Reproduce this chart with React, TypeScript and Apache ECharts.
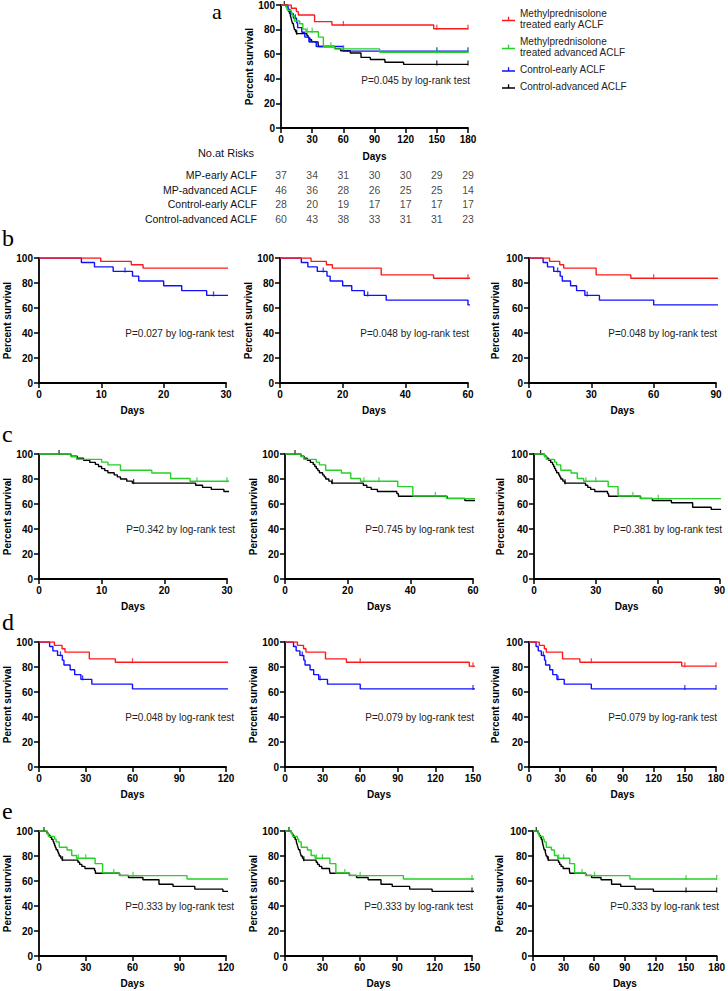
import React, { useEffect, useRef } from 'react';
import * as echarts from 'echarts';

// ---------- data ----------
const seriesNames = [
  'Methylprednisolone treated early ACLF',
  'Methylprednisolone treated advanced ACLF',
  'Control-early ACLF',
  'Control-advanced ACLF',
];

// Kaplan-Meier step points [day, percent survival]
const mpEarlyCurve = [[0, 100], [9.9, 97.3], [14.8, 94.6], [16.7, 91.9], [32.3, 86.5], [49, 83.8], [147, 80.7], [180, 80.7]];
const mpEarlyCensored = [[60, 83.8], [150, 80.7], [180, 80.7]];

const mpAdvancedCurve = [[0, 100], [5.1, 97.8], [6, 95.7], [10, 93.5], [11, 91.3], [13, 87.0], [18, 84.8], [21, 80.4], [24.1, 78.2], [36, 73.9], [40.8, 66.4], [51.5, 64.3], [95, 61.6], [180, 61.6]];
const mpAdvancedCensored = [[25.2, 78.2], [30, 78.2], [48, 66.4], [60.3, 64.3], [150, 61.6], [180, 61.6]];

const controlEarlyCurve = [[0, 100], [6.8, 96.4], [8.9, 92.9], [11.9, 89.3], [15, 85.5], [16, 81.6], [20, 77.8], [22.9, 73.9], [26.9, 70.1], [33.9, 66.3], [60, 62.5], [180, 62.5]];
const controlEarlyCensored = [[13.8, 89.3], [28, 70.1], [150, 62.5], [180, 62.5]];

const controlAdvancedCurve = [[0, 100], [5.1, 98.3], [6.1, 96.7], [7.1, 95], [8.1, 93.3], [9, 91.7], [9.5, 90], [10, 88.3], [10.5, 86.7], [11, 85], [12, 83.3], [12.5, 81.7], [13, 80], [14, 78.3], [14.9, 76.7], [25, 75], [26.1, 73.3], [27.5, 71.7], [29.5, 70], [35.7, 68.3], [36.2, 66.2], [51.7, 64.5], [57.4, 62.8], [66.7, 61], [77, 57.4], [86, 55.7], [100, 53.5], [118, 51.7], [180, 51.7]];
const controlAdvancedCensored = [[3.2, 100], [15.1, 76.7], [150, 51.7], [180, 51.7]];

// Number at risk table
const riskDays = [0, 30, 60, 90, 120, 150, 180];
const riskRowLabels = ['MP-early ACLF', 'MP-advanced ACLF', 'Control-early ACLF', 'Control-advanced ACLF'];
const riskMpEarly = [37, 34, 31, 30, 30, 29, 29];
const riskMpAdvanced = [46, 36, 28, 26, 25, 25, 14];
const riskControlEarly = [28, 20, 19, 17, 17, 17, 17];
const riskControlAdvanced = [60, 43, 38, 33, 31, 31, 23];

// P values
const pA = '0.045';
const pB = ['0.027', '0.048', '0.048'];
const pC = ['0.342', '0.745', '0.381'];
const pD = ['0.048', '0.079', '0.079'];
const pE = ['0.333', '0.333', '0.333'];

// x-axis ranges
const xMaxShort = [30, 60, 90];
const xIntShort = [10, 20, 30];
const xMaxLong = [120, 150, 180];
const xIntLong = [30, 30, 30];

// ---------- styles ----------
const FONT = "'Liberation Sans', Arial, Helvetica, sans-serif";
const SERIF = "'Liberation Serif', 'Times New Roman', serif";
const RED = '#ff1a1a';
const GREEN = '#26d026';
const BLUE = '#1010ff';
const BLACK = '#000000';

const curveDefs: Record<string, any> = {
  mpEarly: { name: seriesNames[0], color: RED, curve: mpEarlyCurve, censored: mpEarlyCensored },
  mpAdvanced: { name: seriesNames[1], color: GREEN, curve: mpAdvancedCurve, censored: mpAdvancedCensored },
  controlEarly: { name: seriesNames[2], color: BLUE, curve: controlEarlyCurve, censored: controlEarlyCensored },
  controlAdvanced: { name: seriesNames[3], color: BLACK, curve: controlAdvancedCurve, censored: controlAdvancedCensored },
};

function buildOption() {
  const grid: any[] = [];
  const xAxis: any[] = [];
  const yAxis: any[] = [];
  const series: any[] = [];
  const graphic: any[] = [];

  const axisLine = { show: true, onZero: false, lineStyle: { color: '#000', width: 1.8 } };
  const axisTick = { show: true, inside: false, length: 5, lineStyle: { color: '#000', width: 1.5 } };
  const axisLabel = { show: true, color: '#000', fontSize: 10, fontWeight: 'bold', fontFamily: FONT, margin: 6 };
  const nameTextStyle = { color: '#000', fontSize: 10, fontWeight: 'bold', fontFamily: FONT };

  const addPanel = (p: any) => {
    const idx = grid.length;
    grid.push({ left: p.left, top: p.top, width: p.width, height: p.height, containLabel: false });
    xAxis.push({
      type: 'value', gridIndex: idx, min: 0, max: p.xMax, interval: p.xInt,
      axisLine, axisTick, axisLabel, splitLine: { show: false },
      name: 'Days', nameLocation: 'middle', nameGap: p.xNameGap, nameTextStyle,
    });
    yAxis.push({
      type: 'value', gridIndex: idx, min: 0, max: 100, interval: 20,
      axisLine, axisTick, axisLabel, splitLine: { show: false },
      name: 'Percent survival', nameLocation: 'middle', nameGap: p.yNameGap, nameTextStyle,
    });
    p.groups.forEach((key: string, k: number) => {
      const c = curveDefs[key];
      series.push({
        type: 'line', name: c.name, xAxisIndex: idx, yAxisIndex: idx, data: c.curve,
        step: 'end', symbol: 'none', showSymbol: false, clip: true, z: 2 + k,
        lineStyle: { width: 1.4, color: c.color }, itemStyle: { color: c.color },
        silent: true,
      });
      series.push({
        type: 'scatter', name: c.name + ' censored', xAxisIndex: idx, yAxisIndex: idx, data: c.censored,
        symbol: 'rect', symbolSize: [1.3, 5], symbolOffset: [0, -1.5], clip: true, z: 2 + k,
        itemStyle: { color: c.color }, silent: true,
      });
    });
    graphic.push({
      type: 'text', x: p.pX, y: p.pY, silent: true,
      style: { text: 'P=' + p.pValue + ' by log-rank test', align: 'right', verticalAlign: 'middle', fill: '#222', fontSize: 10, fontFamily: FONT },
    });
  };

  // panel a
  addPanel({
    left: 281, top: 4, width: 187, height: 124, xMax: 180, xInt: 30,
    groups: ['controlAdvanced', 'controlEarly', 'mpAdvanced', 'mpEarly'],
    pValue: pA, pX: 470, pY: 80, xNameGap: 23, yNameGap: 26,
  });

  // risk table grid
  const riskIdx = grid.length;
  grid.push({ left: 281, top: 167.6, width: 187, height: 58.8, containLabel: false });
  xAxis.push({ type: 'value', gridIndex: riskIdx, min: 0, max: 180, show: false });
  yAxis.push({
    type: 'category', gridIndex: riskIdx, data: riskRowLabels, inverse: true,
    axisLine: { show: false }, axisTick: { show: false }, splitLine: { show: false },
    axisLabel: { color: '#111', fontSize: 10.5, fontFamily: FONT, margin: 24 },
  });
  const riskAll = [riskMpEarly, riskMpAdvanced, riskControlEarly, riskControlAdvanced];
  const riskData: any[] = [];
  riskAll.forEach((row, r) => row.forEach((v, c) => riskData.push([riskDays[c], riskRowLabels[r], v])));
  series.push({
    type: 'scatter', xAxisIndex: riskIdx, yAxisIndex: riskIdx, data: riskData,
    symbolSize: 0, silent: true, clip: false,
    label: { show: true, position: 'inside', formatter: (q: any) => String(q.value[2]), color: '#111', fontSize: 10.5, fontFamily: FONT },
  });

  // rows b-e
  const rows = [
    { top: 258, lefts: [39, 280, 529], widths: [187, 188, 187], xMax: xMaxShort, xInt: xIntShort, groups: ['controlEarly', 'mpEarly'], p: pB, yGaps: [27, 21, 29] },
    { top: 454, lefts: [39, 285, 534], widths: [188, 188, 187], xMax: xMaxShort, xInt: xIntShort, groups: ['controlAdvanced', 'mpAdvanced'], p: pC, yGaps: [27, 26, 29] },
    { top: 642, lefts: [39, 285, 529], widths: [187, 188, 187], xMax: xMaxLong, xInt: xIntLong, groups: ['controlEarly', 'mpEarly'], p: pD, yGaps: [27, 26, 29] },
    { top: 831, lefts: [39, 285, 533], widths: [187, 187, 185], xMax: xMaxLong, xInt: xIntLong, groups: ['controlAdvanced', 'mpAdvanced'], p: pE, yGaps: [27, 26, 29] },
  ];
  rows.forEach((row) => {
    for (let c = 0; c < 3; c++) {
      const right = row.lefts[c] + row.widths[c];
      addPanel({
        left: row.lefts[c], top: row.top, width: row.widths[c], height: 125,
        xMax: row.xMax[c], xInt: row.xInt[c], groups: row.groups, pValue: row.p[c],
        pX: c === 0 ? right + 8 : right + 1, pY: row.top + 75, xNameGap: 22, yNameGap: row.yGaps[c],
      });
    }
  });

  // panel letters
  const letters = [
    { t: 'a', x: 212, y: 11, size: 22 },
    { t: 'b', x: 2, y: 238, size: 24 },
    { t: 'c', x: 2, y: 434, size: 24 },
    { t: 'd', x: 2, y: 622, size: 24 },
    { t: 'e', x: 2, y: 811, size: 24 },
  ];
  letters.forEach((l) => graphic.push({
    type: 'text', x: l.x, y: l.y, silent: true,
    style: { text: l.t, align: 'left', verticalAlign: 'middle', fill: '#000', fontSize: l.size, fontFamily: SERIF },
  }));
  graphic.push({
    type: 'text', x: 226, y: 153, silent: true,
    style: { text: 'No.at Risks', align: 'center', verticalAlign: 'middle', fill: '#111', fontSize: 11, fontFamily: FONT },
  });

  return {
    animation: false,
    backgroundColor: '#ffffff',
    grid, xAxis, yAxis, series, graphic,
    legend: {
      show: true, data: seriesNames, orient: 'vertical', left: 497, top: 3,
      itemWidth: 13, itemHeight: 5, itemGap: 6, selectedMode: false,
      icon: 'path://M0,3h13v1.3H0z M5.9,0h1.3v3H5.9z',
      formatter: (n: string) => n.replace(' treated', '\ntreated'),
      textStyle: { fontSize: 10, lineHeight: 11, color: '#222', fontFamily: FONT },
    },
  };
}

export default function App() {
  const ref = useRef<HTMLDivElement>(null);
  useEffect(() => {
    const chart = echarts.init(ref.current as HTMLDivElement, null, { renderer: 'svg' });
    chart.setOption(buildOption() as any);
    return () => chart.dispose();
  }, []);
  return (
    <div
      ref={ref}
      style={{ position: 'absolute', left: 0, top: 0, width: 728, height: 991, background: '#fff' }}
    />
  );
}
